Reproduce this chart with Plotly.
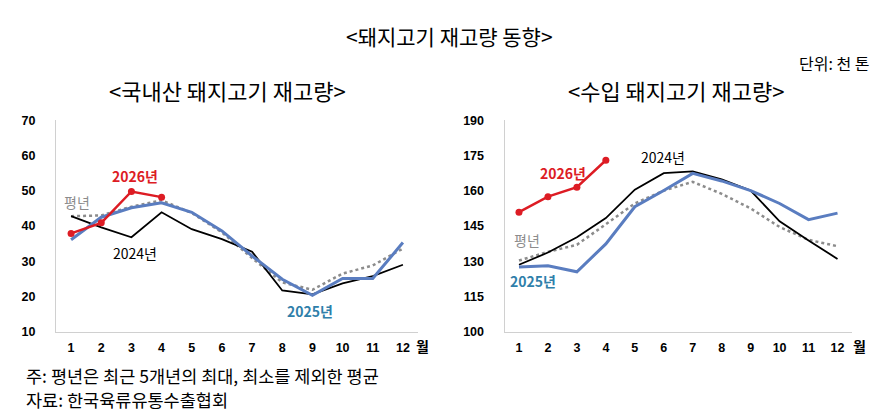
import plotly.graph_objects as go

months = list(range(1, 13))
month_labels = [str(m) for m in months]

# 국내산 (천 톤)
dom_2026 = [37.9, 40.9, 49.8, 48.2]
dom_2025 = [36.1, 42.5, 45.2, 46.6, 43.9, 38.6, 31.5, 24.9, 20.3, 25.1, 25.1, 35.3]
dom_2024 = [42.8, 39.6, 36.8, 43.9, 39.1, 36.3, 32.7, 21.7, 20.6, 23.7, 25.8, 29.0]
dom_avg = [42.8, 43.0, 45.5, 47.3, 43.7, 38.2, 30.9, 24.0, 21.9, 26.5, 28.8, 33.6]

# 수입 (천 톤)
imp_2026 = [150.9, 157.5, 161.5, 173.0]
imp_2025 = [127.6, 128.1, 125.5, 137.4, 153.2, 160.1, 167.4, 164.2, 160.1, 154.6, 147.7, 150.5]
imp_2024 = [128.5, 133.7, 140.2, 148.4, 160.5, 167.5, 168.3, 164.9, 160.1, 147.0, 138.8, 131.0]
imp_avg = [130.3, 134.0, 137.0, 145.7, 154.6, 160.1, 163.8, 158.7, 152.5, 144.6, 139.1, 136.4]

dom_ticks = [10, 20, 30, 40, 50, 60, 70]
imp_ticks = [100, 115, 130, 145, 160, 175, 190]

RED = "#dd1c24"
BLUE = "#5a7dc0"
TEAL = "#2f7faa"
GRAY = "#8c8c8c"
KFONT = "Noto Sans CJK KR"

W, H = 879, 417


def px(x):
    return x / W


def py(y):
    return 1 - y / H


fig = go.Figure()


def add_panel(xa, ya, avg, s2024, s2025, s2026):
    fig.add_trace(go.Scatter(x=months, y=avg, mode="lines", xaxis=xa, yaxis=ya,
                             line=dict(color=GRAY, width=2.5, dash="dot")))
    fig.add_trace(go.Scatter(x=months, y=s2024, mode="lines", xaxis=xa, yaxis=ya,
                             line=dict(color="black", width=1.8)))
    fig.add_trace(go.Scatter(x=months, y=s2025, mode="lines", xaxis=xa, yaxis=ya,
                             line=dict(color=BLUE, width=3)))
    fig.add_trace(go.Scatter(x=months[:len(s2026)], y=s2026, mode="lines+markers",
                             xaxis=xa, yaxis=ya,
                             line=dict(color=RED, width=2.5),
                             marker=dict(color=RED, size=7)))


add_panel("x", "y", dom_avg, dom_2024, dom_2025, dom_2026)
add_panel("x2", "y2", imp_avg, imp_2024, imp_2025, imp_2026)

y0, y1 = py(327.7), py(109)

tickfont = dict(family="Liberation Sans Narrow, Liberation Sans", size=12.5,
                color="black", weight="bold")
xcommon = dict(range=[0.5, 12.5], tickvals=months, ticktext=month_labels,
               showline=True, linecolor="#d0d0d0", linewidth=1, showgrid=False,
               zeroline=False, ticks="", ticklabelstandoff=4, tickfont=tickfont)
ycommon = dict(showline=True, linecolor="#d0d0d0", linewidth=1, showgrid=False,
               zeroline=False, ticks="", ticklabelstandoff=17, tickfont=tickfont)

fig.update_layout(
    width=W, height=H,
    margin=dict(l=0, r=0, t=0, b=0),
    paper_bgcolor="white", plot_bgcolor="white",
    showlegend=False,
    xaxis=dict(domain=[px(48), px(410)], anchor="y", **xcommon),
    yaxis=dict(domain=[y0, y1], anchor="x", range=[10, 70], tickvals=dom_ticks, **ycommon),
    xaxis2=dict(domain=[px(496.5), px(844)], anchor="y2", **xcommon),
    yaxis2=dict(domain=[y0, y1], anchor="x2", range=[100, 190], tickvals=imp_ticks, **ycommon),
)

texts = [
    # (text, x, y, size, color, bold, xanchor)
    ("<돼지고기 재고량 동향>", 441, 22, 21, "black", False, "center"),
    ("단위: 천 톤", 864, 50, 16, "black", False, "right"),
    ("<국내산 돼지고기 재고량>", 219, 78, 22, "black", False, "center"),
    ("<수입 돼지고기 재고량>", 668, 78, 22, "black", False, "center"),
    ("주: 평년은 최근 5개년의 최대, 최소를 제외한 평균", 16, 373, 17.5, "black", False, "left"),
    ("자료: 한국육류유통수출협회", 16, 398, 17.5, "black", False, "left"),
    ("월", 406, 343, 14, "black", True, "left"),
    ("월", 843, 343, 14, "black", True, "left"),
    ("2026년", 127, 167, 14, RED, True, "center"),
    ("평년", 69, 193, 14, GRAY, False, "center"),
    ("2024년", 127, 246, 14, "black", False, "center"),
    ("2025년", 302, 306, 14, TEAL, True, "center"),
    ("2026년", 555, 163, 14, RED, True, "center"),
    ("2024년", 655, 147, 14, "black", False, "center"),
    ("평년", 519, 233, 14, GRAY, False, "center"),
    ("2025년", 525, 275, 14, TEAL, True, "center"),
]
for t, x, y, s, c, b, xa in texts:
    fig.add_annotation(text=t, x=px(x), y=py(y), xref="paper", yref="paper",
                       xanchor=xa, yanchor="middle", showarrow=False,
                       font=dict(family=KFONT, size=s, color=c,
                                 weight="bold" if b else "normal"))

fig.write_html("out.html")
